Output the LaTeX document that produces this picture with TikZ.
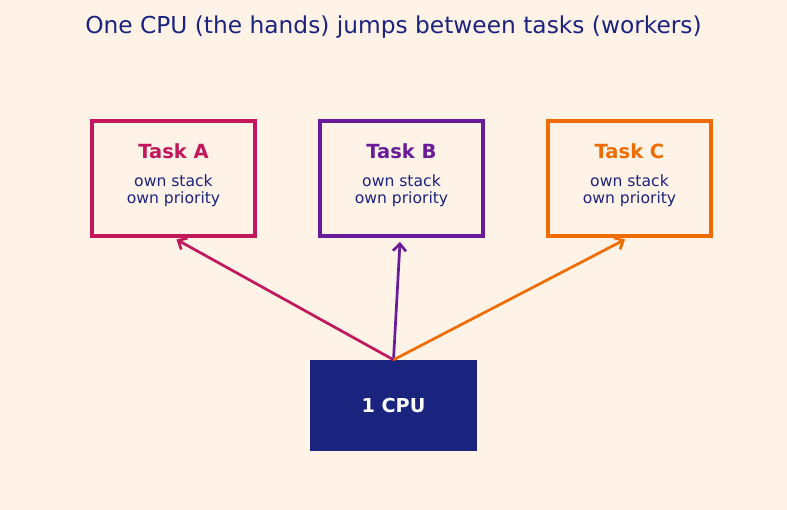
\documentclass[tikz,border=0pt]{standalone}
\usepackage{fontspec}
\setmainfont{DejaVu Sans}
\usetikzlibrary{arrows.meta}
\definecolor{bg}{HTML}{FFF2E7}
\definecolor{navy}{HTML}{1A237E}
\definecolor{ca}{HTML}{C2185B}
\definecolor{cb}{HTML}{6A1B9A}
\definecolor{cc}{HTML}{EF6C00}
\newcommand\tkttl{\fontsize{19.5}{20}\selectfont\bfseries}
\begin{document}
\begin{tikzpicture}[x=1pt,y=-1pt,
  taskbox/.style={draw=#1,line width=3.6pt,minimum width=163.4pt,minimum height=115.4pt,align=center,text=navy,inner sep=0pt,font=\fontsize{15.6}{17}\selectfont},
  arr/.style={draw=#1,line width=2.7pt,-{Straight Barb[length=7pt,width=13pt,line width=2.7pt]}}]
\fill[bg] (0,0) rectangle (787,510);
\useasboundingbox (0,0) rectangle (787,510);
\node[text=navy,font=\fontsize{23.3}{26}\selectfont] (title) at (393.5,27.5) {One CPU (the hands) jumps between tasks (workers)};
\node[taskbox=ca] (a) at (173.5,178.5) {{\tkttl\color{ca}Task A}\\[11pt]own stack\\own priority\\[-7.3pt]\mbox{}};
\node[taskbox=cb] (b) at (401.5,178.5) {{\tkttl\color{cb}Task B}\\[11pt]own stack\\own priority\\[-7.3pt]\mbox{}};
\node[taskbox=cc] (c) at (629.5,178.5) {{\tkttl\color{cc}Task C}\\[11pt]own stack\\own priority\\[-7.3pt]\mbox{}};
\node[fill=navy,minimum width=167pt,minimum height=91pt,inner sep=0pt,text=white,font=\fontsize{19.2}{22}\selectfont\bfseries] (cpu) at (393.5,405.5) {1 CPU};
\draw[arr=ca] (cpu.north) -- ([xshift=3pt,yshift=-1.5pt]a.south);
\draw[arr=cb] (cpu.north) -- ([xshift=-1.5pt,yshift=-4pt]b.south);
\draw[arr=cc] (cpu.north) -- ([xshift=-4.5pt,yshift=-1.5pt]c.south);
\end{tikzpicture}
\end{document}
